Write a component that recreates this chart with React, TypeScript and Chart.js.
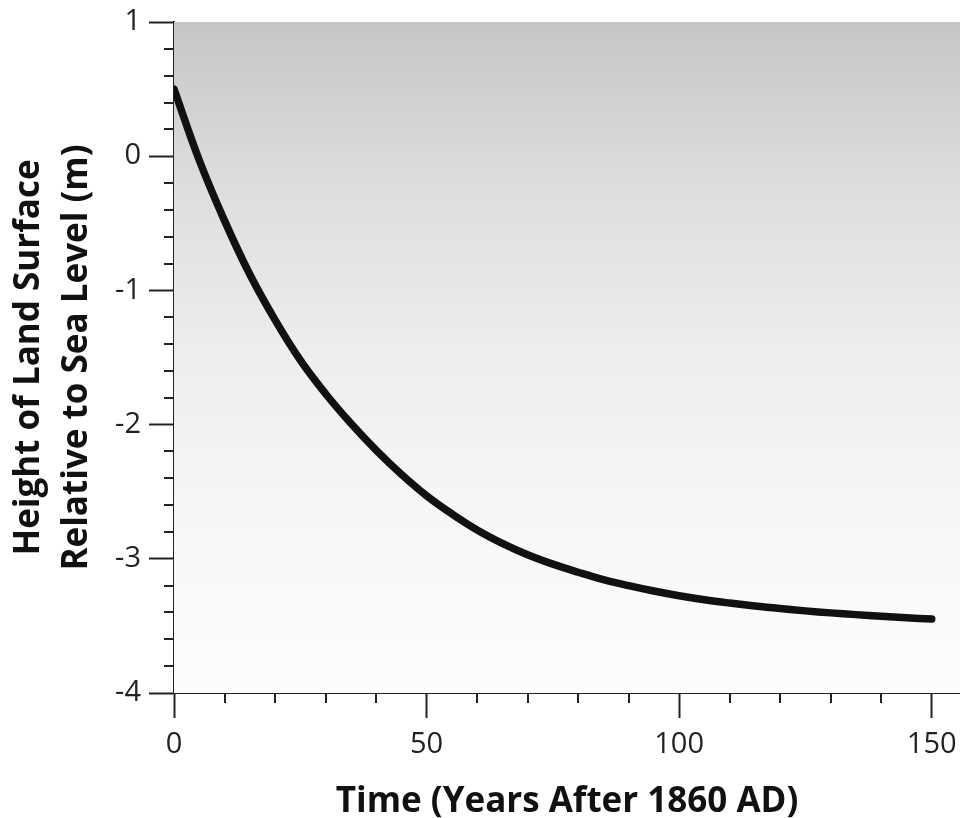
import React, { useEffect, useRef } from "react";
import { Chart, registerables } from "chart.js";

Chart.register(...registerables);

const years = [0, 5, 10, 15, 20, 25, 30, 35, 40, 45, 50, 55, 60, 65, 70, 75, 80, 85, 90, 95, 100, 105, 110, 115, 120, 125, 130, 135, 140, 145, 150];
const heights = [0.5, -0.03, -0.48, -0.88, -1.22, -1.52, -1.77, -1.99, -2.19, -2.37, -2.53, -2.665, -2.785, -2.885, -2.97, -3.04, -3.1, -3.155, -3.2, -3.24, -3.275, -3.305, -3.33, -3.352, -3.371, -3.388, -3.403, -3.416, -3.428, -3.439, -3.449];

const xTickValues = [0, 10, 20, 30, 40, 50, 60, 70, 80, 90, 100, 110, 120, 130, 140, 150];
const xMajorLabels = [0, 50, 100, 150];
const yTickValues = [-4, -3.8, -3.6, -3.4, -3.2, -3, -2.8, -2.6, -2.4, -2.2, -2, -1.8, -1.6, -1.4, -1.2, -1, -0.8, -0.6, -0.4, -0.2, 0, 0.2, 0.4, 0.6, 0.8, 1];
const yMajorLabels = [-4, -3, -2, -1, 0, 1];

const xTitle = "Time (Years After 1860 AD)";
const yTitle = ["Height of Land Surface", "Relative to Sea Level (m)"];

const isIn = (arr: number[], v: number) => arr.some((a) => Math.abs(a - v) < 1e-6);

const AXIS = "#222222";
const MAJOR_LEN = 25;
const MINOR_LEN = 10;

const bgPlugin = {
  id: "bgGradient",
  beforeDatasetsDraw(chart: any) {
    const { ctx, chartArea } = chart;
    const g = ctx.createLinearGradient(0, chartArea.top, 0, chartArea.bottom);
    g.addColorStop(0, "#c6c6c6");
    g.addColorStop(0.25, "#dedede");
    g.addColorStop(0.5, "#eeeeee");
    g.addColorStop(0.75, "#f7f7f7");
    g.addColorStop(1, "#fdfdfd");
    ctx.save();
    ctx.fillStyle = g;
    ctx.fillRect(chartArea.left, chartArea.top, chartArea.right - chartArea.left, chartArea.bottom - chartArea.top);
    ctx.restore();
  },
};

const minorTickPlugin = {
  id: "minorTicks",
  afterDraw(chart: any) {
    const { ctx, chartArea } = chart;
    const xs = chart.scales.x;
    const ys = chart.scales.y;
    ctx.save();
    ctx.strokeStyle = AXIS;
    ctx.lineWidth = 2;
    ctx.beginPath();
    xTickValues.forEach((v) => {
      if (isIn(xMajorLabels, v)) return;
      const px = Math.round(xs.getPixelForValue(v));
      ctx.moveTo(px, chartArea.bottom);
      ctx.lineTo(px, chartArea.bottom + MINOR_LEN);
    });
    yTickValues.forEach((v) => {
      if (isIn(yMajorLabels, v)) return;
      const py = Math.round(ys.getPixelForValue(v));
      ctx.moveTo(chartArea.left, py);
      ctx.lineTo(chartArea.left - MINOR_LEN, py);
    });
    ctx.stroke();
    ctx.restore();
  },
};

export default function App() {
  const ref = useRef<HTMLCanvasElement | null>(null);

  useEffect(() => {
    if (!ref.current) return;
    const chart = new Chart(ref.current, {
      type: "line",
      data: {
        datasets: [
          {
            data: years.map((x, i) => ({ x, y: heights[i] })),
            borderColor: "#111111",
            borderWidth: 7.5,
            borderCapStyle: "round",
            borderJoinStyle: "round",
            pointRadius: 0,
            tension: 0.4,
            fill: false,
          } as any,
        ],
      },
      options: {
        animation: false,
        responsive: true,
        maintainAspectRatio: false,
        layout: { padding: { top: 22, right: 0, left: 0, bottom: 0 } },
        plugins: { legend: { display: false }, tooltip: { enabled: false } },
        scales: {
          x: {
            type: "linear",
            min: 0,
            max: 155.6,
            afterBuildTicks: (scale: any) => {
              scale.ticks = xTickValues.map((value) => ({ value }));
            },
            afterFit: (scale: any) => {
              scale.height = 125;
              scale.paddingLeft = 0;
              scale.paddingRight = 0;
            },
            grid: {
              drawOnChartArea: false,
              drawTicks: true,
              tickLength: MAJOR_LEN,
              tickWidth: 2,
              tickColor: (c: any) => (isIn(xMajorLabels, c.tick.value) ? AXIS : "rgba(0,0,0,0)"),
            },
            border: { display: true, color: AXIS, width: 2 },
            ticks: {
              autoSkip: false,
              maxRotation: 0,
              padding: 9,
              color: "#222",
              font: { family: "'Open Sans'", size: 29 },
              callback: (v: any) => (isIn(xMajorLabels, Number(v)) ? String(Math.round(Number(v))) : ""),
            },
            title: {
              display: true,
              text: xTitle,
              color: "#111",
              font: { family: "'Open Sans'", size: 35, weight: "bold", lineHeight: 0.9 },
              padding: { top: 0, bottom: 0 },
            },
          },
          y: {
            type: "linear",
            min: -4,
            max: 1,
            afterBuildTicks: (scale: any) => {
              scale.ticks = yTickValues.map((value) => ({ value }));
            },
            afterFit: (scale: any) => {
              scale.width = 174;
              scale.paddingTop = 0;
              scale.paddingBottom = 0;
            },
            grid: {
              drawOnChartArea: false,
              drawTicks: true,
              tickLength: MAJOR_LEN,
              tickWidth: 2,
              tickColor: (c: any) => (isIn(yMajorLabels, c.tick.value) ? AXIS : "rgba(0,0,0,0)"),
            },
            border: { display: true, color: AXIS, width: 2 },
            ticks: {
              autoSkip: false,
              padding: 8,
              color: "#222",
              font: { family: "'Open Sans'", size: 29 },
              callback: (v: any) => (isIn(yMajorLabels, Number(v)) ? String(Math.round(Number(v))) : ""),
            },
            title: {
              display: true,
              text: yTitle,
              color: "#111",
              font: { family: "'Open Sans'", size: 35, weight: "bold", lineHeight: 1.37 },
              padding: { top: 5, bottom: 0 },
            },
          },
        },
      } as any,
      plugins: [bgPlugin, minorTickPlugin],
    });
    return () => chart.destroy();
  }, []);

  return (
    <div style={{ position: "absolute", left: 0, top: 0, width: 960, height: 818, background: "#fff" }}>
      <canvas ref={ref} />
    </div>
  );
}
